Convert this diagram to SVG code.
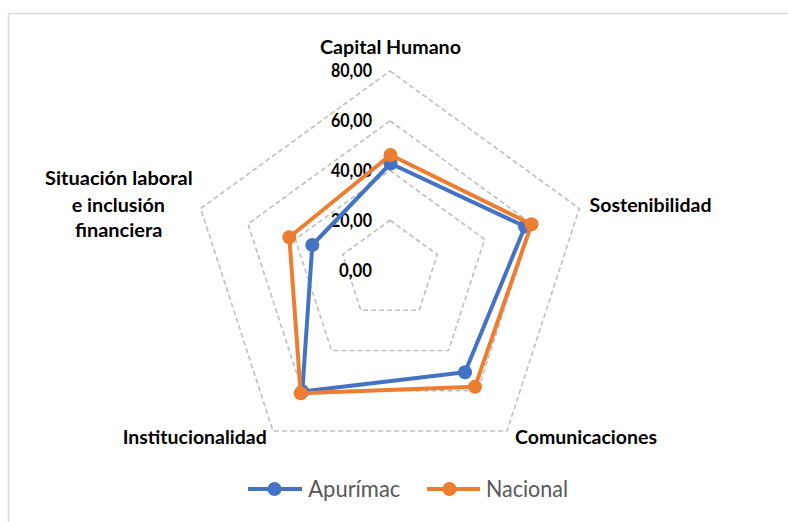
<svg xmlns="http://www.w3.org/2000/svg" width="788" height="522" viewBox="0 0 788 522">
<style>
.grid{fill:none;stroke:#BFBFBF;stroke-width:1.6;stroke-dasharray:5,3}
.lbl{font-family:Lato,"Liberation Sans",sans-serif;font-weight:bold;font-size:18px;fill:#000}
.tick{font-family:Lato,"Liberation Sans",sans-serif;font-weight:bold;font-size:18px;fill:#000;text-anchor:end}
.leg{font-family:Lato,"Liberation Sans",sans-serif;font-size:23px;fill:#595959}
.sa{fill:none;stroke:#4472C4;stroke-width:4;stroke-linejoin:round}
.sn{fill:none;stroke:#ED7D31;stroke-width:4;stroke-linejoin:round}
.da{fill:#4472C4}
.dn{fill:#ED7D31}
</style>
<rect x="0" y="0" width="788" height="522" fill="#fff"/>
<rect x="8.5" y="13.5" width="800" height="540" fill="none" stroke="#D9D9D9" stroke-width="1.5"/>
<g id="grid">
<polygon class="grid" points="390,71 579.3,208.5 507,431 273,431 200.7,208.5"/>
<polygon class="grid" points="390,120.8 532,223.9 477.7,390.7 302.3,390.7 248,223.9"/>
<polygon class="grid" points="390,170.5 484.6,239.3 448.5,350.5 331.5,350.5 295.4,239.3"/>
<polygon class="grid" points="390,220.3 437.3,254.6 419.2,310.2 360.8,310.2 342.7,254.6"/>
</g>
<g id="ticks">
<text class="tick" x="372" y="77" textLength="41" lengthAdjust="spacingAndGlyphs">80,00</text>
<text class="tick" x="372" y="127" textLength="41" lengthAdjust="spacingAndGlyphs">60,00</text>
<text class="tick" x="372" y="177" textLength="41" lengthAdjust="spacingAndGlyphs">40,00</text>
<text class="tick" x="372" y="227" textLength="41" lengthAdjust="spacingAndGlyphs">20,00</text>
<text class="tick" x="372" y="277" textLength="33" lengthAdjust="spacingAndGlyphs">0,00</text>
</g>
<g id="axis-labels">
<g id="capital-humano"><text class="lbl" x="320" y="54" textLength="141" lengthAdjust="spacingAndGlyphs">Capital Humano</text></g>
<g id="sostenibilidad"><text class="lbl" x="589.5" y="211.5" textLength="122" lengthAdjust="spacingAndGlyphs">Sostenibilidad</text></g>
<g id="comunicaciones"><text class="lbl" x="515" y="444" textLength="142" lengthAdjust="spacingAndGlyphs">Comunicaciones</text></g>
<g id="institucionalidad"><text class="lbl" x="122.7" y="444" textLength="144" lengthAdjust="spacingAndGlyphs">Institucionalidad</text></g>
<g id="situacion-laboral">
<text class="lbl" x="45" y="185" textLength="147.7" lengthAdjust="spacingAndGlyphs">Situación laboral</text>
<text class="lbl" x="71.7" y="211.5" textLength="93.3" lengthAdjust="spacingAndGlyphs">e inclusión</text>
<text class="lbl" x="75" y="237" textLength="87.3" lengthAdjust="spacingAndGlyphs">financiera</text>
</g>
</g>
<g id="series">
<g id="apurimac">
<polygon class="sa" points="390.5,163.5 525,226.5 465,372.3 302.3,391.5 312.3,245"/>
<circle class="da" cx="390.5" cy="163.5" r="7"/>
<circle class="da" cx="525" cy="226.5" r="7"/>
<circle class="da" cx="465" cy="372.3" r="7"/>
<circle class="da" cx="302.3" cy="391.5" r="7"/>
<circle class="da" cx="312.3" cy="245" r="7"/>
</g>
<g id="nacional">
<polygon class="sn" points="390.5,155 531.5,224.3 475,386.7 300.7,393.3 289.3,237.3"/>
<circle class="dn" cx="390.5" cy="155" r="7"/>
<circle class="dn" cx="531.5" cy="224.3" r="7"/>
<circle class="dn" cx="475" cy="386.7" r="7"/>
<circle class="dn" cx="300.7" cy="393.3" r="7"/>
<circle class="dn" cx="289.3" cy="237.3" r="7"/>
</g>
</g>
<g id="legend">
<line x1="248" y1="489" x2="302" y2="489" stroke="#4472C4" stroke-width="4"/>
<circle class="da" cx="274.5" cy="489" r="7"/>
<text class="leg" x="308.3" y="496.5" textLength="92" lengthAdjust="spacingAndGlyphs">Apurímac</text>
<line x1="427" y1="489" x2="480" y2="489" stroke="#ED7D31" stroke-width="4"/>
<circle class="dn" cx="449.5" cy="489" r="7"/>
<text class="leg" x="486" y="496.5" textLength="82" lengthAdjust="spacingAndGlyphs">Nacional</text>
</g>
</svg>
